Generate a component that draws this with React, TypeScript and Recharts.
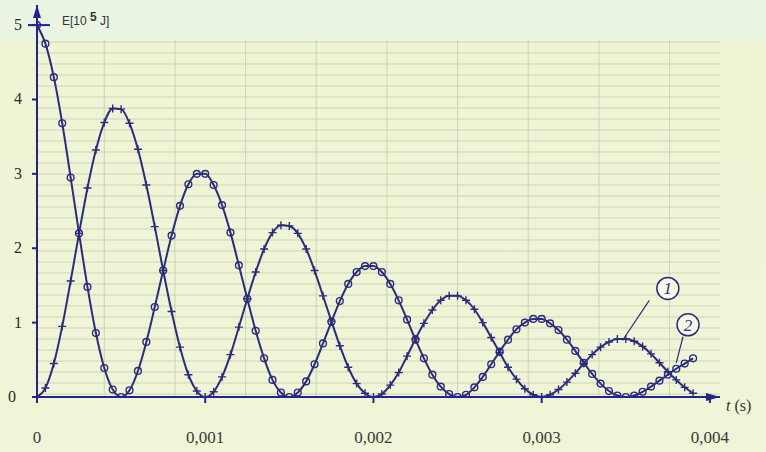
import { LineChart, Line, XAxis, YAxis, CartesianGrid, ReferenceDot, ReferenceLine } from 'recharts';

// time samples (s)
const times = [
  0, 0.00005, 0.0001, 0.00015, 0.0002, 0.00025, 0.0003, 0.00035, 0.0004, 0.00045,
  0.0005, 0.00055, 0.0006, 0.00065, 0.0007, 0.00075, 0.0008, 0.00085, 0.0009, 0.00095,
  0.001, 0.00105, 0.0011, 0.00115, 0.0012, 0.00125, 0.0013, 0.00135, 0.0014, 0.00145,
  0.0015, 0.00155, 0.0016, 0.00165, 0.0017, 0.00175, 0.0018, 0.00185, 0.0019, 0.00195,
  0.002, 0.00205, 0.0021, 0.00215, 0.0022, 0.00225, 0.0023, 0.00235, 0.0024, 0.00245,
  0.0025, 0.00255, 0.0026, 0.00265, 0.0027, 0.00275, 0.0028, 0.00285, 0.0029, 0.00295,
  0.003, 0.00305, 0.0031, 0.00315, 0.0032, 0.00325, 0.0033, 0.00335, 0.0034, 0.00345,
  0.0035, 0.00355, 0.0036, 0.00365, 0.0037, 0.00375, 0.0038, 0.00385, 0.0039,
];

// curve 1 (+ marks)
const curve1 = [
  0, 0.12, 0.45, 0.95, 1.56, 2.2, 2.81, 3.32, 3.69, 3.88,
  3.87, 3.68, 3.33, 2.85, 2.29, 1.7, 1.15, 0.67, 0.3, 0.08,
  0, 0.07, 0.27, 0.57, 0.94, 1.32, 1.68, 1.99, 2.21, 2.31,
  2.3, 2.2, 1.99, 1.7, 1.36, 1.02, 0.69, 0.4, 0.18, 0.05,
  0, 0.04, 0.16, 0.33, 0.55, 0.78, 0.99, 1.17, 1.3, 1.36,
  1.36, 1.3, 1.18, 1.0, 0.8, 0.6, 0.4, 0.24, 0.11, 0.03,
  0, 0.03, 0.1, 0.2, 0.32, 0.45, 0.57, 0.67, 0.74, 0.78,
  0.78, 0.75, 0.68, 0.58, 0.46, 0.34, 0.23, 0.13, 0.05,
];

// curve 2 (o marks)
const curve2 = [
  5.0, 4.75, 4.3, 3.68, 2.95, 2.2, 1.48, 0.86, 0.39, 0.1,
  0, 0.09, 0.35, 0.74, 1.21, 1.7, 2.17, 2.57, 2.86, 3.0,
  3.0, 2.85, 2.58, 2.21, 1.77, 1.32, 0.89, 0.52, 0.23, 0.06,
  0, 0.06, 0.21, 0.44, 0.72, 1.01, 1.29, 1.52, 1.68, 1.76,
  1.76, 1.68, 1.52, 1.3, 1.04, 0.77, 0.52, 0.3, 0.14, 0.04,
  0, 0.03, 0.13, 0.27, 0.44, 0.61, 0.77, 0.91, 1.0, 1.05,
  1.05, 0.99, 0.9, 0.77, 0.62, 0.46, 0.31, 0.18, 0.08, 0.02,
  0, 0.02, 0.07, 0.14, 0.22, 0.3, 0.38, 0.45, 0.52,
];

const xTicks = [0, 0.001, 0.002, 0.003, 0.004];
const yTicks = [0, 1, 2, 3, 4, 5];
const gridT = [0.0004, 0.00082, 0.00124, 0.00166, 0.00208, 0.0025, 0.00292, 0.00334, 0.00376];

const data = times.map((t, i) => ({ t, e1: curve1[i], e2: curve2[i] }));

const INK = '#2b2c7e';
const AXIS = '#23238c';
const GRID = '#cdd3b4';
const serif = '"Liberation Serif", "DejaVu Serif", serif';

const hGrid = Array.from({ length: 33 }, (_, i) => 42 + i * 11);

function PlusDot(props: any) {
  const { cx, cy } = props;
  if (cx == null || cy == null) return null;
  return (
    <path
      d={`M${cx - 4},${cy} L${cx + 4},${cy} M${cx},${cy - 4} L${cx},${cy + 4}`}
      stroke={INK}
      strokeWidth={1.4}
    />
  );
}

function CircleDot(props: any) {
  const { cx, cy } = props;
  if (cx == null || cy == null) return null;
  return <circle cx={cx} cy={cy} r={3.4} fill="none" stroke={INK} strokeWidth={1.4} />;
}

function YTick(props: any) {
  const { y, payload } = props;
  const v = payload.value;
  return (
    <g>
      {v === 5 && <line x1={28} x2={50} y1={y} y2={y} stroke={AXIS} strokeWidth={2} />}
      <text x={v === 0 ? 12 : 18} y={y + 5} fontSize={16} fontFamily={serif} fill="#2a2a2a" textAnchor="middle">
        {v}
      </text>
    </g>
  );
}

function XTick(props: any) {
  const { x, y, payload } = props;
  const v = payload.value;
  const label = v === 0 ? '0' : v.toFixed(3).replace('.', ',');
  return (
    <text x={x} y={y + 38} fontSize={17} fontFamily={serif} fill="#3a3a3a" textAnchor="middle">
      {label}
    </text>
  );
}

const upArrow = (p: any) => (
  <path d={`M${p.cx - 4},${p.cy + 13} L${p.cx},${p.cy} L${p.cx + 4},${p.cy + 13} Z`} fill={AXIS} />
);
const rightArrow = (p: any) => (
  <path d={`M${p.cx - 14},${p.cy - 4} L${p.cx},${p.cy} L${p.cx - 14},${p.cy + 4} Z`} fill={AXIS} />
);

function Ring(label: string) {
  return (p: any) => (
    <g>
      <circle cx={p.cx} cy={p.cy} r={11} fill="#f4f8e4" stroke={INK} strokeWidth={1.5} />
      <text x={p.cx} y={p.cy + 6} textAnchor="middle" fontSize={17} fontStyle="italic" fontFamily={serif} fill={INK}>
        {label}
      </text>
    </g>
  );
}

export default function App() {
  return (
    <div
      style={{
        position: 'absolute',
        left: 0,
        top: 0,
        width: 766,
        height: 452,
        background: 'linear-gradient(#e9f4e4 0px, #eaf4e2 36px, #eef4d4 42px, #eff5d6 452px)',
        overflow: 'hidden',
      }}
    >
      <LineChart width={766} height={452} data={data} margin={{ top: 5, right: 46, left: 0, bottom: 0 }}>
        <CartesianGrid horizontalPoints={hGrid} vertical={false} stroke={GRID} strokeWidth={1} />
        {gridT.map((g) => (
          <ReferenceLine key={g} segment={[{ x: g, y: 0 }, { x: g, y: 4.8 }]} stroke={GRID} strokeWidth={1} />
        ))}
        <XAxis
          dataKey="t"
          type="number"
          domain={[0, 0.00406]}
          ticks={xTicks}
          tick={XTick}
          height={55}
          stroke={AXIS}
          strokeWidth={2}
          tickSize={6}
          allowDataOverflow
        />
        <YAxis
          type="number"
          domain={[0, 5.27]}
          ticks={yTicks}
          tick={YTick}
          width={37}
          stroke={AXIS}
          strokeWidth={2}
          tickSize={5}
          allowDataOverflow
        />
        <Line
          type="monotone"
          dataKey="e1"
          stroke={INK}
          strokeWidth={2}
          dot={PlusDot}
          isAnimationActive={false}
        />
        <Line
          type="monotone"
          dataKey="e2"
          stroke={INK}
          strokeWidth={2}
          dot={CircleDot}
          isAnimationActive={false}
        />
        <ReferenceLine segment={[{ x: 0.00364, y: 1.3 }, { x: 0.00348, y: 0.76 }]} stroke={INK} strokeWidth={1.2} />
        <ReferenceLine segment={[{ x: 0.00384, y: 0.81 }, { x: 0.0038, y: 0.46 }]} stroke={INK} strokeWidth={1.2} />
        <ReferenceDot x={0.00375} y={1.46} r={11} shape={Ring('1')} ifOverflow="visible" />
        <ReferenceDot x={0.00387} y={0.97} r={11} shape={Ring('2')} ifOverflow="visible" />
        <ReferenceDot x={0} y={5.27} shape={upArrow} ifOverflow="visible" />
        <ReferenceDot x={0.00406} y={0} shape={rightArrow} ifOverflow="visible" />
      </LineChart>
      <div style={{ position: 'absolute', left: 62, top: 10, fontFamily: 'Arial, "Liberation Sans", sans-serif', fontSize: 12, color: '#333' }}>
        E[10 <sup style={{ fontSize: 12, fontWeight: 'bold', verticalAlign: 4 }}>5</sup> J]
      </div>
      <div style={{ position: 'absolute', left: 726, top: 397, fontFamily: serif, fontSize: 16, color: '#333' }}>
        <i>t</i> (s)
      </div>
    </div>
  );
}
